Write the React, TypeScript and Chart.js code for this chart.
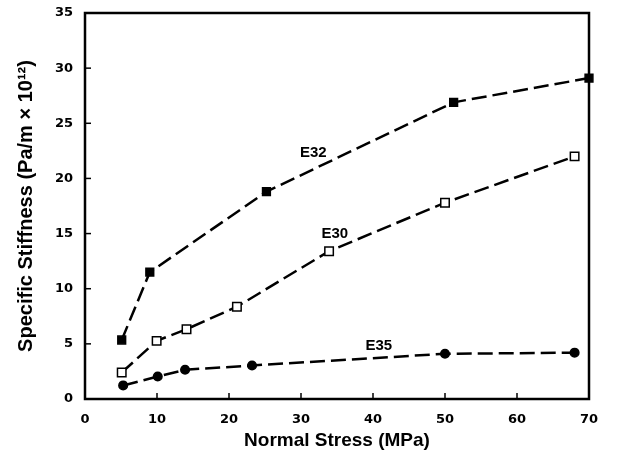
import React, { useEffect, useRef } from "react";
import { Chart, registerables } from "chart.js";

Chart.register(...registerables);

const e32X = [5.1, 9.0, 25.2, 51.2, 70.0];
const e32Y = [5.35, 11.5, 18.8, 26.9, 29.1];
const e30X = [5.1, 9.95, 14.1, 21.1, 33.9, 50.0, 68.0];
const e30Y = [2.4, 5.27, 6.33, 8.37, 13.4, 17.8, 22.0];
const e35X = [5.3, 10.1, 13.9, 23.2, 50.0, 68.0];
const e35Y = [1.23, 2.04, 2.65, 3.04, 4.1, 4.2];

const seriesLabels = [
  { text: "E32", x: 31.7, y: 22.35 },
  { text: "E30", x: 34.7, y: 15.0 },
  { text: "E35", x: 40.8, y: 4.85 },
];

const xTicks = [0, 10, 20, 30, 40, 50, 60, 70];
const yTicks = [0, 5, 10, 15, 20, 25, 30, 35];

const FONT = "'Liberation Sans', Arial, sans-serif";
const TICK_FONT = "'DejaVu Sans', sans-serif";

const toPts = (xs: number[], ys: number[]) => xs.map((x, i) => ({ x, y: ys[i] }));

const framePlugin = {
  id: "frame",
  afterDraw(chart: any) {
    const { ctx, chartArea, scales } = chart;
    const { left, right, top, bottom } = chartArea;
    ctx.save();
    ctx.strokeStyle = "#000";
    ctx.lineWidth = 2.5;
    ctx.strokeRect(left, top, right - left, bottom - top);
    ctx.lineWidth = 1.5;
    const tl = 6;
    xTicks.forEach((v) => {
      const px = scales.x.getPixelForValue(v);
      ctx.beginPath();
      ctx.moveTo(px, bottom);
      ctx.lineTo(px, bottom - tl);
      ctx.stroke();
    });
    yTicks.forEach((v) => {
      const py = scales.y.getPixelForValue(v);
      ctx.beginPath();
      ctx.moveTo(left, py);
      ctx.lineTo(left + tl, py);
      ctx.stroke();
    });
    ctx.fillStyle = "#000";
    ctx.font = `bold 15px ${FONT}`;
    ctx.textAlign = "center";
    ctx.textBaseline = "middle";
    seriesLabels.forEach((l) => {
      ctx.fillText(l.text, scales.x.getPixelForValue(l.x), scales.y.getPixelForValue(l.y));
    });
    ctx.restore();
  },
};

export default function App() {
  const ref = useRef<HTMLCanvasElement>(null);
  useEffect(() => {
    if (!ref.current) return;
    const common = {
      showLine: true,
      borderColor: "#000",
      borderWidth: 2.5,
      borderDash: [15, 6],
      pointBorderColor: "#000",
      pointBorderWidth: 1.5,
      clip: false as any,
    };
    const chart = new Chart(ref.current, {
      type: "scatter",
      data: {
        datasets: [
          { ...common, label: "E32", data: toPts(e32X, e32Y), pointStyle: "rect", pointRadius: 5.5, pointBackgroundColor: "#000" },
          { ...common, label: "E30", data: toPts(e30X, e30Y), pointStyle: "rect", pointRadius: 6, pointBackgroundColor: "#fff" },
          { ...common, label: "E35", data: toPts(e35X, e35Y), pointStyle: "circle", pointRadius: 4.3, pointBackgroundColor: "#000" },
        ],
      },
      options: {
        animation: false,
        responsive: false,
        events: [],
        layout: { padding: { left: 0, right: 39, top: 13, bottom: 0 } },
        plugins: { legend: { display: false }, tooltip: { enabled: false } },
        scales: {
          x: {
            type: "linear",
            min: 0,
            max: 70,
            afterFit: (s: any) => { s.height = 52; s.paddingLeft = 0; s.paddingRight = 0; },
            afterBuildTicks: (s: any) => { s.ticks = xTicks.map((v) => ({ value: v })); },
            grid: { display: false, drawTicks: false },
            border: { display: false },
            ticks: { color: "#000", padding: 13, font: { family: TICK_FONT, size: 13, weight: "bold" } },
            title: { display: true, text: "Normal Stress (MPa)", color: "#000", padding: { top: 0, bottom: -1 }, font: { family: FONT, size: 19, weight: "bold" } },
          },
          y: {
            type: "linear",
            min: 0,
            max: 35,
            afterFit: (s: any) => { s.width = 85; s.paddingTop = 0; s.paddingBottom = 0; },
            afterBuildTicks: (s: any) => { s.ticks = yTicks.map((v) => ({ value: v })); },
            grid: { display: false, drawTicks: false },
            border: { display: false },
            ticks: { color: "#000", padding: 12, font: { family: TICK_FONT, size: 13, weight: "bold" } },
            title: { display: true, text: "Specific Stiffness (Pa/m × 10¹²)", color: "#000", padding: { top: 14, bottom: 0 }, font: { family: FONT, size: 20, weight: "bold" } },
          },
        },
      },
      plugins: [framePlugin],
    });
    return () => chart.destroy();
  }, []);
  return (
    <div style={{ position: "fixed", left: 0, top: 0, width: 628, height: 451, background: "#fff" }}>
      <canvas ref={ref} width={628} height={451} style={{ display: "block" }} />
    </div>
  );
}
